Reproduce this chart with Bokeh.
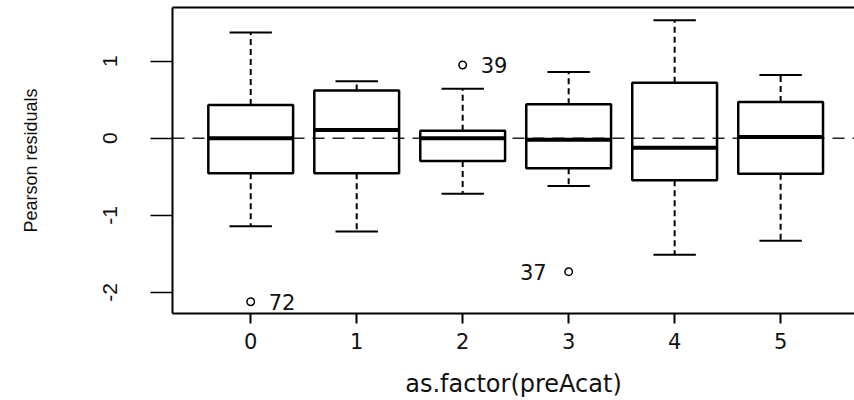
from bokeh.plotting import figure
from bokeh.models import Range1d, FixedTicker, LinearAxis, Span, ColumnDataSource
from bokeh.core.properties import value
from bokeh.embed import file_html
from bokeh.resources import INLINE

# Pearson residuals grouped by preAcat
categories = [0, 1, 2, 3, 4, 5]
whisker_low = [-1.14, -1.21, -0.72, -0.62, -1.51, -1.33]
q1 = [-0.455, -0.455, -0.295, -0.39, -0.545, -0.46]
median = [0.0, 0.107, 0.0, -0.02, -0.125, 0.017]
q3 = [0.43, 0.62, 0.098, 0.44, 0.72, 0.47]
whisker_high = [1.37, 0.74, 0.64, 0.86, 1.53, 0.82]

outlier_cat = [0, 2, 3]
outlier_val = [-2.12, 0.95, -1.73]
outlier_id = ["72", "39", "37"]

y_ticks = [-2, -1, 0, 1]
y_tick_labels = ["-2", "-1", "0", "1"]
x_tick_labels = [str(c) for c in categories]

BOX_W = 0.8
CAP_W = 0.4
INK = "#111111"

p = figure(width=854, height=400, output_backend="svg", toolbar_location=None,
           x_range=Range1d(-0.738, 5.697), y_range=Range1d(-2.273, 1.695),
           min_border_left=172, min_border_right=0, min_border_top=7, min_border_bottom=86)
p.outline_line_color = None
p.background_fill_color = "white"
p.border_fill_color = "white"
p.grid.visible = False

# axes styled like base R graphics
xa = p.xaxis[0]
xa.ticker = FixedTicker(ticks=categories)
xa.major_label_overrides = {c: lab for c, lab in zip(categories, x_tick_labels)}
xa.axis_label = "as.factor(preAcat)"
xa.axis_label_text_font = "DejaVu Sans"
xa.axis_label_text_font_style = "normal"
xa.axis_label_text_font_size = "24px"
xa.axis_label_text_color = INK
xa.axis_label_standoff = 18
xa.major_label_text_font = "DejaVu Sans"
xa.major_label_text_font_size = "21px"
xa.major_label_text_color = INK
xa.major_label_standoff = 9
xa.major_tick_out = 10
xa.major_tick_in = 0
xa.minor_tick_line_color = None
xa.axis_line_width = 2
xa.major_tick_line_width = 2

ya = p.yaxis[0]
ya.ticker = FixedTicker(ticks=y_ticks)
ya.major_label_overrides = {t: lab for t, lab in zip(y_ticks, y_tick_labels)}
ya.major_label_orientation = "vertical"
ya.axis_label = "Pearson residuals"
ya.axis_label_text_font = "Liberation Sans"
ya.axis_label_text_font_style = "normal"
ya.axis_label_text_font_size = "18px"
ya.axis_label_text_color = INK
ya.axis_label_standoff = 60
ya.major_label_text_font = "Liberation Sans"
ya.major_label_text_font_size = "21px"
ya.major_label_text_color = INK
ya.major_label_standoff = 33
ya.major_tick_out = 22
ya.major_tick_in = 0
ya.minor_tick_line_color = None
ya.axis_line_width = 2
ya.major_tick_line_width = 1.5

top = LinearAxis(ticker=FixedTicker(ticks=[]), axis_line_width=2,
                 major_label_text_font_size="0px", major_tick_out=0, major_tick_in=0,
                 minor_tick_line_color=None, major_label_standoff=0)
p.add_layout(top, "above")

# reference line at zero
p.add_layout(Span(location=0, dimension="width", line_color="#222222",
                  line_width=1.5, line_dash="12 8", level="underlay"))

src = ColumnDataSource(dict(
    x=categories,
    left=[c - BOX_W / 2 for c in categories],
    right=[c + BOX_W / 2 for c in categories],
    cap_l=[c - CAP_W / 2 for c in categories],
    cap_r=[c + CAP_W / 2 for c in categories],
    lo=whisker_low, q1=q1, med=median, q3=q3, hi=whisker_high,
))

# dashed whiskers
p.segment(x0="x", y0="q3", x1="x", y1="hi", source=src, line_color="black",
          line_width=2, line_dash="6 4")
p.segment(x0="x", y0="q1", x1="x", y1="lo", source=src, line_color="black",
          line_width=2, line_dash="6 4")
# staples
p.segment(x0="cap_l", y0="hi", x1="cap_r", y1="hi", source=src, line_color="black", line_width=2)
p.segment(x0="cap_l", y0="lo", x1="cap_r", y1="lo", source=src, line_color="black", line_width=2)
# boxes
p.quad(left="left", right="right", bottom="q1", top="q3", source=src,
       fill_color=None, line_color="black", line_width=2.5)
# medians
p.segment(x0="left", y0="med", x1="right", y1="med", source=src, line_color="black", line_width=4)

# outliers with identifiers
osrc = ColumnDataSource(dict(x=outlier_cat, y=outlier_val, id=outlier_id))
p.scatter(x="x", y="y", source=osrc, marker="circle", size=7.5, fill_color=None,
          line_color="black", line_width=1.5)

side = ["right", "right", "left"]
for i, s in enumerate(side):
    one = ColumnDataSource(dict(x=[outlier_cat[i]], y=[outlier_val[i]], id=[outlier_id[i]]))
    p.text(x="x", y="y", text="id", source=one,
           text_font=value("DejaVu Sans"), text_font_size="21px",
           text_align="left" if s == "right" else "right", text_baseline="middle",
           x_offset=18 if s == "right" else -22, text_color=INK)

open("out.html", "w").write(file_html(p, INLINE))
